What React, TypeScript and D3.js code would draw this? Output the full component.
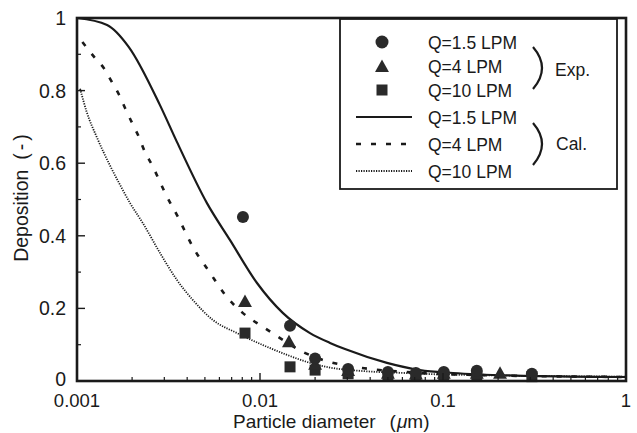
import React from "react";
import * as d3 from "d3";

// Calculated curves: particle diameter (µm) and deposition (-)
const calQ15_d = [0.001, 0.00146, 0.00192, 0.00284, 0.00352, 0.00513, 0.00686, 0.00963, 0.01336, 0.01876, 0.02413, 0.02914, 0.0494, 0.0749, 0.1134, 0.298, 1];
const calQ15_v = [1.0, 0.981, 0.92, 0.76, 0.658, 0.49, 0.388, 0.27, 0.187, 0.132, 0.105, 0.088, 0.05, 0.03, 0.022, 0.014, 0.011];

const calQ4_d = [0.00107, 0.00124, 0.0014, 0.00155, 0.0017, 0.00183, 0.002, 0.00218, 0.00235, 0.00257, 0.00281, 0.00303, 0.00356, 0.0043, 0.00533, 0.0066, 0.00807, 0.01038, 0.01336, 0.01718, 0.02208, 0.0361, 0.0619, 0.1, 1];
const calQ4_v = [0.934, 0.893, 0.862, 0.824, 0.788, 0.752, 0.711, 0.672, 0.631, 0.595, 0.554, 0.518, 0.452, 0.369, 0.298, 0.231, 0.187, 0.149, 0.113, 0.08, 0.058, 0.036, 0.025, 0.019, 0.011];

const calQ10_d = [0.00104, 0.00113, 0.00129, 0.00151, 0.00172, 0.00195, 0.00229, 0.00284, 0.00352, 0.0043, 0.00553, 0.00749, 0.01038, 0.01404, 0.01876, 0.02413, 0.0352, 0.0619, 0.1, 1];
const calQ10_v = [0.805, 0.741, 0.669, 0.595, 0.54, 0.49, 0.435, 0.353, 0.278, 0.223, 0.168, 0.132, 0.099, 0.072, 0.05, 0.037, 0.028, 0.022, 0.018, 0.012];

// Experimental points
const expQ15_d = [0.00807, 0.01459, 0.0200, 0.0303, 0.05, 0.0711, 0.101, 0.153, 0.306];
const expQ15_v = [0.452, 0.152, 0.062, 0.033, 0.025, 0.022, 0.025, 0.028, 0.02];
const expQ4_d = [0.00828, 0.0144, 0.0200, 0.0303, 0.05, 0.0711, 0.101, 0.153, 0.205];
const expQ4_v = [0.218, 0.107, 0.045, 0.028, 0.02, 0.018, 0.02, 0.02, 0.02];
const expQ10_d = [0.00828, 0.01459, 0.0200, 0.0303, 0.05, 0.0711, 0.101, 0.153, 0.306];
const expQ10_v = [0.132, 0.039, 0.03, 0.02, 0.013, 0.013, 0.013, 0.013, 0.012];

const xTickValues = [0.001, 0.01, 0.1, 1];
const xTickLabels = ["0.001", "0.01", "0.1", "1"];
const yTickValues = [0, 0.2, 0.4, 0.6, 0.8, 1];
const yTickLabels = ["0", "0.2", "0.4", "0.6", "0.8", "1"];

const legendLabels = ["Q=1.5 LPM", "Q=4 LPM", "Q=10 LPM", "Q=1.5 LPM", "Q=4 LPM", "Q=10 LPM"];

const FONT = "'Liberation Sans', Arial, Helvetica, sans-serif";
const INK = "#1a1a1a";
const MARK = "#2a2a2a";

export default function App() {
  const W = 637, H = 433;
  const x0 = 77, x1 = 626, y0 = 381, y1 = 18;
  const x = d3.scaleLog().domain([0.001, 1]).range([x0, x1]);
  const y = d3.scaleLinear().domain([0, 1]).range([y0, y1]);

  const line = d3.line<[number, number]>()
    .x((p) => x(p[0]))
    .y((p) => y(p[1]))
    .curve(d3.curveMonotoneX);

  const zip = (a: number[], b: number[]) => a.map((v, i) => [v, b[i]] as [number, number]);

  const minorX: number[] = [];
  for (let e = -3; e < 0; e++) {
    for (let k = 2; k <= 9; k++) minorX.push(k * Math.pow(10, e));
  }
  const minorY = [0.1, 0.3, 0.5, 0.7, 0.9];

  const tri = (cx: number, cy: number, s: number) =>
    `M${cx},${cy - s * 0.62} L${cx + s * 0.58},${cy + s * 0.42} L${cx - s * 0.58},${cy + s * 0.42} Z`;

  const legendRowsY = [42, 66, 90, 117, 144, 171];
  const dashed = "5 10";
  const dotted = "1.2 1.3";

  return (
    <svg width={W} height={H} style={{ position: "absolute", left: 0, top: 0, background: "#fff" }}>
      <rect x={0} y={0} width={W} height={H} fill="#fff" />

      {/* Curves */}
      <path d={line(zip(calQ15_d, calQ15_v)) || ""} fill="none" stroke={INK} strokeWidth={2.2} />
      <path d={line(zip(calQ4_d, calQ4_v)) || ""} fill="none" stroke={INK} strokeWidth={2.6} strokeDasharray={dashed} />
      <path d={line(zip(calQ10_d, calQ10_v)) || ""} fill="none" stroke={INK} strokeWidth={1.8} strokeDasharray={dotted} />

      {/* Experimental points */}
      {expQ10_d.map((d, i) => (
        <rect key={"s" + i} x={x(d) - 5.5} y={y(expQ10_v[i]) - 5.5} width={11} height={11} fill={MARK} />
      ))}
      {expQ4_d.map((d, i) => (
        <path key={"t" + i} d={tri(x(d), y(expQ4_v[i]), 12)} fill={MARK} />
      ))}
      {expQ15_d.map((d, i) => (
        <circle key={"c" + i} cx={x(d)} cy={y(expQ15_v[i])} r={6} fill={MARK} />
      ))}

      {/* Axis ticks */}
      {minorX.map((v, i) => (
        <line key={"mx" + i} x1={x(v)} x2={x(v)} y1={y0} y2={y0 - 4} stroke={INK} strokeWidth={1.2} />
      ))}
      {xTickValues.map((v, i) => (
        <line key={"Mx" + i} x1={x(v)} x2={x(v)} y1={y0} y2={y0 - 8} stroke={INK} strokeWidth={1.4} />
      ))}
      {yTickValues.map((v, i) => (
        <line key={"My" + i} x1={x0} x2={x0 + 8} y1={y(v)} y2={y(v)} stroke={INK} strokeWidth={1.4} />
      ))}
      {minorY.map((v, i) => (
        <line key={"my" + i} x1={x0} x2={x0 + 4} y1={y(v)} y2={y(v)} stroke={INK} strokeWidth={1.2} />
      ))}

      {/* Frame */}
      <rect x={x0} y={y1} width={x1 - x0} height={y0 - y1} fill="none" stroke={INK} strokeWidth={2.6} />

      {/* Tick labels */}
      {xTickValues.map((v, i) => (
        <text key={"xl" + i} x={x(v)} y={406.5} textAnchor="middle" fontFamily={FONT} fontSize={18.5} fill={INK}>
          {xTickLabels[i]}
        </text>
      ))}
      {yTickValues.map((v, i) => (
        <text key={"yl" + i} x={66} y={v === 0 ? y(v) + 4.5 : y(v) + 7} textAnchor="end" fontFamily={FONT} fontSize={19.5} fill={INK}>
          {yTickLabels[i]}
        </text>
      ))}

      {/* Axis titles */}
      <text x={233} y={428.3} fontFamily={FONT} fontSize={19} fill={INK}>
        <tspan>Particle diameter</tspan>
        <tspan dx={14}>(</tspan>
        <tspan fontStyle="italic" dx={1}>μ</tspan>
        <tspan>m)</tspan>
      </text>
      <text
        transform="translate(28,198) rotate(-90)"
        textAnchor="middle"
        fontFamily={FONT}
        fontSize={19.5}
        fill={INK}
      >
        <tspan>Deposition</tspan>
        <tspan dx={10}>(</tspan>
        <tspan dx={3}>-</tspan>
        <tspan dx={3}>)</tspan>
      </text>

      {/* Legend */}
      <rect x={340} y={19} width={277} height={170} fill="#fff" stroke={INK} strokeWidth={1.8} />
      <circle cx={382} cy={legendRowsY[0]} r={6.5} fill={MARK} />
      <path d={tri(382, legendRowsY[1] + 1, 12)} fill={MARK} />
      <rect x={376.5} y={legendRowsY[2] - 5.5} width={11} height={11} fill={MARK} />
      <line x1={356} x2={412} y1={legendRowsY[3]} y2={legendRowsY[3]} stroke={INK} strokeWidth={2.2} />
      <line x1={356} x2={412} y1={legendRowsY[4]} y2={legendRowsY[4]} stroke={INK} strokeWidth={2.6} strokeDasharray={dashed} />
      <line x1={356} x2={412} y1={legendRowsY[5]} y2={legendRowsY[5]} stroke={INK} strokeWidth={1.8} strokeDasharray={dotted} />
      {legendLabels.map((t, i) => (
        <text key={"lg" + i} x={428} y={legendRowsY[i] + 6.5} fontFamily={FONT} fontSize={17.5} fill={INK}>
          {t}
        </text>
      ))}
      <path d="M533,47 Q551,68 533,89" fill="none" stroke={INK} strokeWidth={2.2} />
      <path d="M533,123 Q551,144 533,165" fill="none" stroke={INK} strokeWidth={2.2} />
      <text x={555} y={76} fontFamily={FONT} fontSize={17.5} fill={INK}>Exp.</text>
      <text x={556} y={150} fontFamily={FONT} fontSize={17.5} fill={INK}>Cal.</text>
    </svg>
  );
}
